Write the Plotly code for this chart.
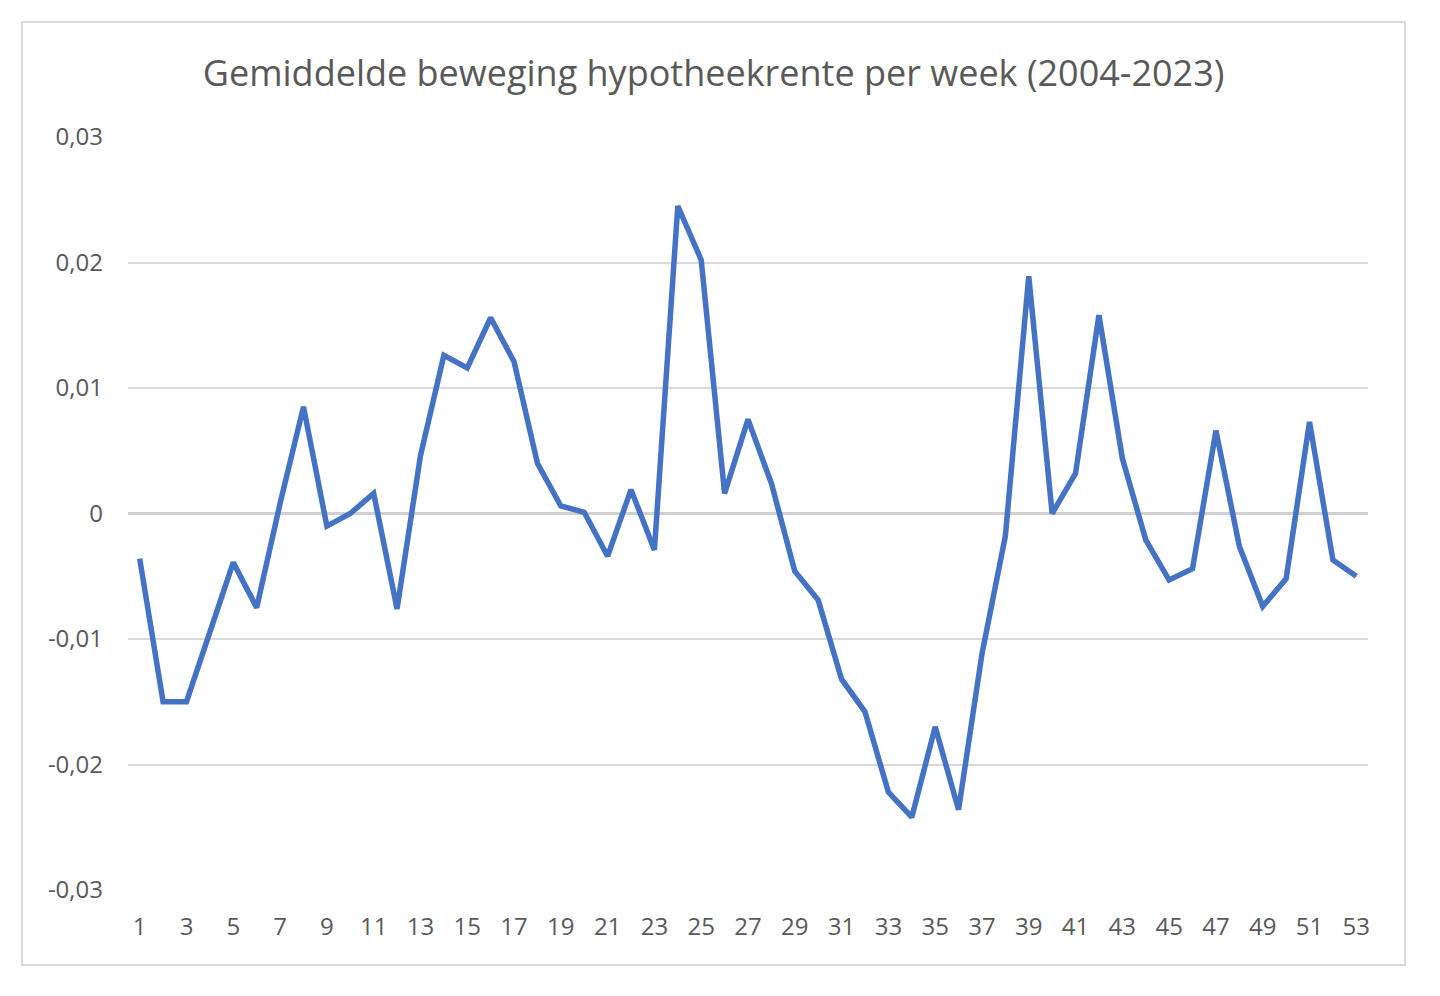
import plotly.graph_objects as go

# average weekly movement of the mortgage rate, weeks 1-53
weeks = list(range(1, 54))
movement = [
    -0.0036, -0.0150, -0.0150, -0.0095, -0.0039, -0.0075, 0.0008, 0.0085, -0.0010, 0.0000,
    0.0016, -0.0076, 0.0046, 0.0126, 0.0116, 0.0156, 0.0121, 0.0040, 0.0006, 0.0001,
    -0.0034, 0.0019, -0.0029, 0.0245, 0.0202, 0.0016, 0.0075, 0.0024, -0.0046, -0.0069,
    -0.0132, -0.0158, -0.0222, -0.0242, -0.0170, -0.0236, -0.0112, -0.0018, 0.0189, 0.0000,
    0.0032, 0.0158, 0.0044, -0.0021, -0.0053, -0.0044, 0.0066, -0.0026, -0.0074, -0.0052,
    0.0073, -0.0037, -0.0050,
]

x_ticks = list(range(1, 54, 2))
y_ticks = [-0.03, -0.02, -0.01, 0, 0.01, 0.02, 0.03]
y_labels = ["-0,03", "-0,02", "-0,01", "0", "0,01", "0,02", "0,03"]

grey = "#595959"

fig = go.Figure()
fig.add_trace(go.Scatter(
    x=weeks,
    y=movement,
    mode="lines",
    line=dict(color="#4472C4", width=5.5),
    showlegend=False
))

fig.update_layout(
    width=1440,
    height=996,
    paper_bgcolor="white",
    plot_bgcolor="white",
    margin=dict(l=120, r=80, t=129, b=114),
    font=dict(family="Open Sans", color=grey),
    title=dict(
        text="Gemiddelde beweging hypotheekrente per week (2004-2023)",
        x=0.49,
        xanchor="center",
        y=1 - 65 / 996,
        yanchor="middle",
        yref="container",
        font=dict(size=36, color=grey)
    )
)

fig.update_xaxes(
    range=[0.5, 53.5],
    tickvals=x_ticks,
    ticks="",
    showgrid=False,
    zeroline=False,
    showline=False,
    tickfont=dict(size=24, color=grey),
    ticklabelstandoff=20
)

fig.update_yaxes(
    range=[-0.03, 0.03],
    tickvals=y_ticks,
    ticktext=y_labels,
    showgrid=True,
    gridcolor="#d9d9d9",
    gridwidth=1.5,
    zeroline=True,
    zerolinecolor="#d0d0d0",
    zerolinewidth=3,
    showline=False,
    tickfont=dict(size=24, color=grey),
    ticklabelstandoff=24
)

# chart border
fig.add_shape(
    type="rect",
    xref="paper", yref="paper",
    x0=(22 - 128) / 1240, x1=(1405 - 128) / 1240,
    y0=(890 - 965) / 753, y1=(890 - 22) / 753,
    line=dict(color="#d9d9d9", width=2),
    fillcolor="rgba(0,0,0,0)",
    layer="below"
)

fig.write_html("out.html")
